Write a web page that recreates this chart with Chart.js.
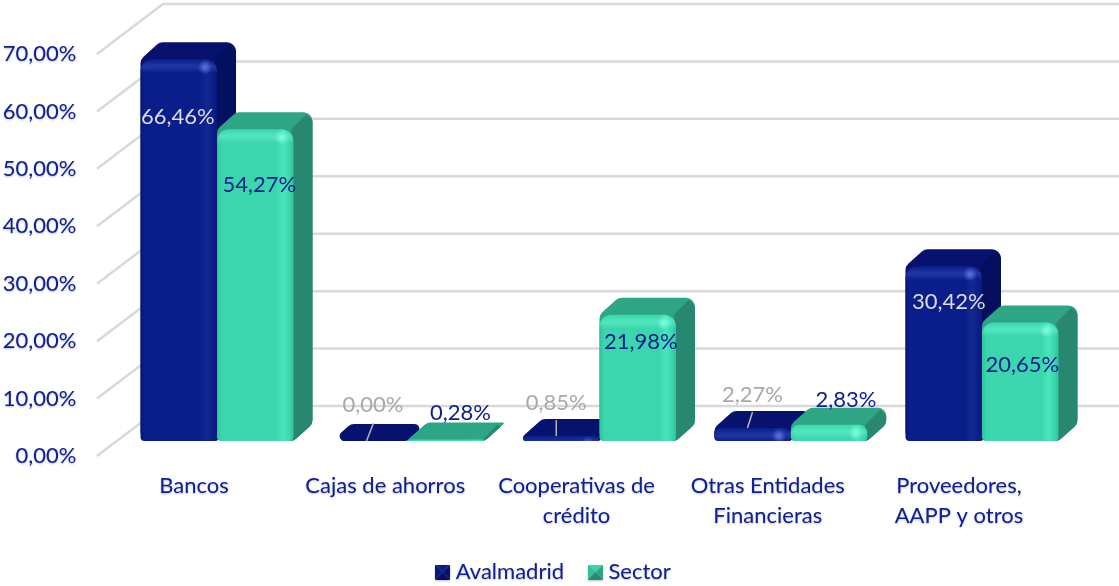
<!DOCTYPE html>
<html lang="es">
<head>
<meta charset="utf-8">
<title>Avalmadrid vs Sector</title>
<script src="https://cdn.jsdelivr.net/npm/chart.js@4"></script>
<style>
  html, body { margin: 0; padding: 0; background: #fff; }
  canvas { display: block; }
</style>
</head>
<body>
<canvas id="chart" width="1119" height="586"></canvas>
<script>
const categories = [
  "Bancos",
  "Cajas de ahorros",
  ["Cooperativas de", "crédito"],
  ["Otras Entidades", "Financieras"],
  ["Proveedores,", "AAPP y otros"]
];
const avalmadrid = [66.46, 0, 0.85, 2.27, 30.42];
const sector = [54.27, 0.28, 21.98, 2.83, 20.65];

// look and layout, apart from the values
const BLUE_TEXT = "#0f2090";
const GRID = "#d9d9d9";
const FONT = { family: "Lato", size: 22, lineHeight: 30 / 22 };
const GRID_FRONT = { x: 97, dy: 15 };
const GRID_BACK = { x: 163, dy: -35 };
const DEPTH = { x: 19, y: 17 };

const bluePalette = {
  edge: "#08187a", face: "#0a1e8b", light: "#14298f", top: "#06126e", side: "#050f5f",
  band: "70,90,200", spot: "100,120,235"
};
const mintPalette = {
  edge: "#2fc29b", face: "#3bd6ad", light: "#48e6bc", top: "#2ea585", side: "#27876f",
  band: "120,255,220", spot: "130,255,225"
};

// label offsets from the centre of the bar top
const avalLabelShift = [[-1, 58], [3, -36], [-5, -33], [0, -33], [5, 36]];
const sectorLabelShift = [[4, 56], [14, -26], [3, 27], [17, -25], [2, 42]];
const avalLabelColor = ["#dcdcdc", "#a9a9a9", "#a9a9a9", "#a9a9a9", "#dcdcdc"];
const leaderLines = [
  [1, -3.5, 0, 3.5, -18],
  [2, -5, -16, -5, 0],
  [3, 0, -16, -5, 0]
];

function percent(v) {
  return v.toFixed(2).replace(".", ",") + "%";
}

function swatch(pal) {
  const c = document.createElement("canvas");
  c.width = 15;
  c.height = 15;
  const g = c.getContext("2d");
  const tri = (color, pts) => {
    g.fillStyle = color;
    g.beginPath();
    g.moveTo(pts[0], pts[1]);
    g.lineTo(pts[2], pts[3]);
    g.lineTo(7.5, 7.5);
    g.closePath();
    g.fill();
  };
  tri(pal.face, [0, 0, 15, 0]);
  tri(pal.edge, [0, 0, 0, 15]);
  tri(pal.side, [0, 15, 15, 15]);
  tri(pal.top, [15, 0, 15, 15]);
  return c;
}

// polygon with rounded corners; radius shrinks where the edges are short
function roundedPoly(ctx, raw, r) {
  const pts = raw.filter((p, i) => {
    const q = raw[(i + 1) % raw.length];
    return Math.hypot(p[0] - q[0], p[1] - q[1]) > 0.5;
  });
  const n = pts.length;
  ctx.beginPath();
  pts.forEach((p, i) => {
    const a = pts[(i + n - 1) % n];
    const b = pts[(i + 1) % n];
    const la = Math.hypot(a[0] - p[0], a[1] - p[1]);
    const lb = Math.hypot(b[0] - p[0], b[1] - p[1]);
    const cos = ((a[0] - p[0]) * (b[0] - p[0]) + (a[1] - p[1]) * (b[1] - p[1])) / (la * lb);
    const half = Math.acos(Math.max(-1, Math.min(1, cos))) / 2;
    const d = Math.min(r / Math.tan(half), la / 2, lb / 2);
    const rad = d * Math.tan(half);
    const sx = p[0] + (a[0] - p[0]) * d / la;
    const sy = p[1] + (a[1] - p[1]) * d / la;
    if (i === 0) ctx.moveTo(sx, sy);
    else ctx.lineTo(sx, sy);
    ctx.arcTo(p[0], p[1], b[0], b[1], rad);
  });
  ctx.closePath();
}

function drawBar3D(ctx, el, pal) {
  const x0 = el.x - el.width / 2;
  const x1 = el.x + el.width / 2;
  const yTop = el.y;
  const yBase = el.base;
  const h = yBase - yTop;
  const r = 12;

  ctx.save();
  roundedPoly(ctx, [
    [x0, yBase], [x0, yTop], [x0 + DEPTH.x, yTop - DEPTH.y],
    [x1 + DEPTH.x, yTop - DEPTH.y], [x1 + DEPTH.x, yBase - DEPTH.y], [x1, yBase]
  ], 9);
  ctx.fillStyle = pal.top;
  ctx.fill();
  ctx.clip();
  if (h > 1) {
    ctx.fillStyle = pal.side;
    ctx.beginPath();
    ctx.moveTo(x1 - 2, yTop);
    ctx.lineTo(x1 + DEPTH.x - 6, yTop - DEPTH.y + 2);
    ctx.lineTo(x1 + DEPTH.x + 2, yTop - DEPTH.y + 10);
    ctx.lineTo(x1 + DEPTH.x + 2, yBase);
    ctx.lineTo(x1 - 2, yBase + 2);
    ctx.closePath();
    ctx.fill();
  }
  ctx.restore();

  if (h < 1) return;

  const rr = Math.min(r, h / 2);
  ctx.save();
  ctx.beginPath();
  ctx.roundRect(x0, yTop, x1 - x0, h, [rr, rr, Math.min(rr, 4), Math.min(rr, 4)]);
  const grad = ctx.createLinearGradient(x0, 0, x1, 0);
  grad.addColorStop(0, pal.edge);
  grad.addColorStop(0.06, pal.face);
  grad.addColorStop(0.78, pal.face);
  grad.addColorStop(0.87, pal.light);
  grad.addColorStop(0.95, pal.face);
  grad.addColorStop(1, pal.edge);
  ctx.fillStyle = grad;
  ctx.fill();
  ctx.clip();

  const band = ctx.createLinearGradient(0, yTop, 0, yTop + 14);
  band.addColorStop(0, `rgba(${pal.band},0)`);
  band.addColorStop(0.5, `rgba(${pal.band},0.4)`);
  band.addColorStop(1, `rgba(${pal.band},0)`);
  ctx.fillStyle = band;
  ctx.fillRect(x0, yTop, x1 - x0, 14);

  const sx = x1 - 12;
  const sy = yTop + 8;
  const spot = ctx.createRadialGradient(sx, sy, 0, sx, sy, 7);
  spot.addColorStop(0, `rgba(${pal.spot},0.9)`);
  spot.addColorStop(1, `rgba(${pal.spot},0)`);
  ctx.fillStyle = spot;
  ctx.fillRect(sx - 7, sy - 7, 14, 14);
  ctx.restore();
}

const bars3d = {
  id: "bars3d",
  beforeDraw(chart) {
    // soft shadow behind the axis and legend text
    const ctx = chart.ctx;
    ctx.save();
    ctx.shadowColor = "rgba(20,30,90,0.3)";
    ctx.shadowBlur = 2;
    ctx.shadowOffsetY = 1;
  },
  beforeDatasetsDraw(chart) {
    const ctx = chart.ctx;
    ctx.restore();

    const yScale = chart.scales.y;
    ctx.save();
    ctx.strokeStyle = GRID;
    ctx.lineWidth = 2.5;
    yScale.ticks.forEach(t => {
      const p = yScale.getPixelForValue(t.value);
      ctx.beginPath();
      ctx.moveTo(GRID_FRONT.x, p + GRID_FRONT.dy);
      ctx.lineTo(GRID_BACK.x, p + GRID_BACK.dy);
      ctx.lineTo(chart.width, p + GRID_BACK.dy);
      ctx.stroke();
    });
    ctx.restore();

    const aval = chart.getDatasetMeta(0).data;
    const sect = chart.getDatasetMeta(1).data;
    aval.forEach((el, i) => {
      drawBar3D(ctx, el, bluePalette);
      drawBar3D(ctx, sect[i], mintPalette);
    });

    ctx.save();
    ctx.strokeStyle = "#b5b5b5";
    ctx.lineWidth = 1.5;
    leaderLines.forEach(([i, ax, ay, bx, by]) => {
      ctx.beginPath();
      ctx.moveTo(aval[i].x + ax, aval[i].y + ay);
      ctx.lineTo(aval[i].x + bx, aval[i].y + by);
      ctx.stroke();
    });

    ctx.font = FONT.size + "px " + FONT.family;
    ctx.textAlign = "center";
    ctx.textBaseline = "middle";
    aval.forEach((el, i) => {
      ctx.fillStyle = avalLabelColor[i];
      ctx.fillText(percent(avalmadrid[i]), el.x + avalLabelShift[i][0], el.y + avalLabelShift[i][1]);
    });
    sect.forEach((el, i) => {
      ctx.fillStyle = BLUE_TEXT;
      ctx.fillText(percent(sector[i]), el.x + sectorLabelShift[i][0], el.y + sectorLabelShift[i][1]);
    });
    ctx.restore();
    return false;
  },
  afterLayout(chart) {
    // legend sits right of centre and close to the bottom edge
    const legend = chart.legend;
    legend.left += 17;
    legend.right += 17;
    legend.top += 7;
    legend.bottom += 7;
    // room for the second line of the category labels
    chart.scales.x.bottom += 25;
  }
};

new Chart(document.getElementById("chart"), {
  type: "bar",
  data: {
    labels: categories,
    datasets: [
      { label: "Avalmadrid", data: avalmadrid, backgroundColor: bluePalette.face },
      { label: "Sector", data: sector, backgroundColor: mintPalette.face }
    ]
  },
  plugins: [bars3d],
  options: {
    responsive: false,
    animation: false,
    layout: { padding: { top: 39, right: 41.4, left: 0, bottom: 0 } },
    datasets: { bar: { barPercentage: 1, categoryPercentage: 0.8 } },
    scales: {
      x: {
        grid: { display: false },
        border: { display: false },
        afterFit(scale) {
          scale.height = scale.chart.height - 441 - scale.chart.legend.height;
          scale.paddingLeft = 0;
          scale.paddingRight = 0;
        },
        ticks: {
          color: BLUE_TEXT,
          font: FONT,
          padding: 22,
          labelOffset: -23,
          maxRotation: 0,
          autoSkip: false
        }
      },
      y: {
        min: 0,
        max: 70,
        grid: { display: false },
        border: { display: false },
        afterFit(scale) {
          scale.width = 121.4;
          scale.paddingTop = 0;
          scale.paddingBottom = 0;
        },
        ticks: {
          stepSize: 10,
          color: BLUE_TEXT,
          font: FONT,
          padding: 37,
          labelOffset: 15,
          callback: v => percent(v)
        }
      }
    },
    plugins: {
      tooltip: { enabled: false },
      legend: {
        position: "bottom",
        labels: {
          usePointStyle: true,
          pointStyleWidth: 4,
          padding: 29.5,
          color: BLUE_TEXT,
          font: { family: FONT.family, size: FONT.size },
          generateLabels(chart) {
            const swatches = [swatch(bluePalette), swatch(mintPalette)];
            return chart.data.datasets.map((d, i) => ({
              text: d.label,
              fontColor: BLUE_TEXT,
              pointStyle: swatches[i],
              datasetIndex: i,
              lineWidth: 0
            }));
          }
        }
      }
    }
  }
});
</script>
</body>
</html>
